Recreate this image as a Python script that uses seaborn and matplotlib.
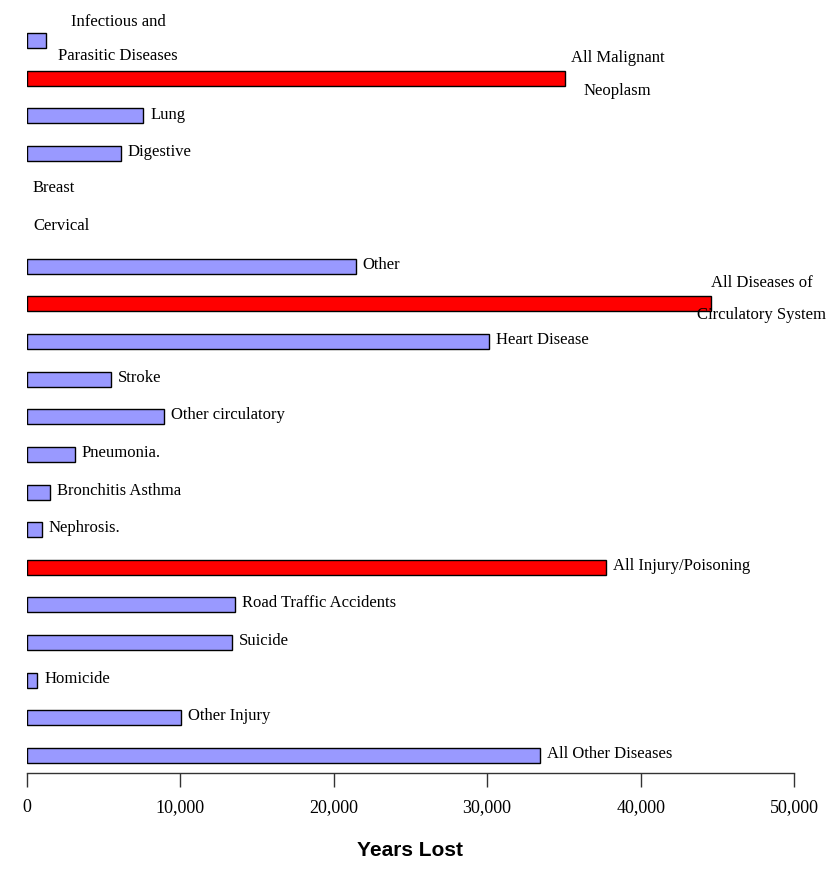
import numpy as np
import pandas as pd
import matplotlib.pyplot as plt
import seaborn as sns

causes = ["Infectious and Parasitic Diseases", "All Malignant Neoplasm", "Lung",
          "Digestive", "Breast", "Cervical", "Other",
          "All Diseases of Circulatory System", "Heart Disease", "Stroke",
          "Other circulatory", "Pneumonia.", "Bronchitis Asthma", "Nephrosis.",
          "All Injury/Poisoning", "Road Traffic Accidents", "Suicide", "Homicide",
          "Other Injury", "All Other Diseases"]
years_lost = [1300, 35100, 7600, 6150, 0, 0, 21450, 44550, 30100, 5500,
              8950, 3150, 1550, 1000, 37750, 13600, 13400, 700, 10050, 33450]
group = ["detail", "total", "detail", "detail", "detail", "detail", "detail",
         "total", "detail", "detail", "detail", "detail", "detail", "detail",
         "total", "detail", "detail", "detail", "detail", "detail"]
xticks = [0, 10000, 20000, 30000, 40000, 50000]

df = pd.DataFrame({"cause": causes, "years": years_lost, "group": group})

serif = ["Liberation Serif", "DejaVu Serif"]

sns.set_style("white")
plt.rcParams["text.color"] = "black"
plt.rcParams["xtick.color"] = "black"
plt.rcParams["axes.labelcolor"] = "black"
fig = plt.figure(figsize=(8.29, 8.88), dpi=100)
ax = fig.add_axes([0.032, 0.1295, 0.926, 0.848])

sns.barplot(data=df, x="years", y="cause", hue="group", order=causes,
            palette={"detail": "#9999FF", "total": "#FF0000"},
            dodge=False, width=0.4, edgecolor="black", linewidth=1,
            saturation=1, legend=False, ax=ax)

# no outline for empty bars (Breast, Cervical)
for p in ax.patches:
    if p.get_width() == 0:
        p.set_linewidth(0)

# labels at bar ends
two_line = {"Infectious and Parasitic Diseases": ("Infectious and", "Parasitic Diseases", 5950, -0.5, 0.42),
            "All Malignant Neoplasm": ("All Malignant", "Neoplasm", 38500, -0.55, 0.33),
            "All Diseases of Circulatory System": ("All Diseases of", "Circulatory System", 47900, -0.55, 0.3)}
for i, (c, v) in enumerate(zip(causes, years_lost)):
    if c in two_line:
        l1, l2, xc, d1, d2 = two_line[c]
        ax.text(xc, i + d1, l1, ha="center", va="center", fontsize=12, family=serif)
        ax.text(xc, i + d2, l2, ha="center", va="center", fontsize=12, family=serif)
    elif v == 0:
        ax.text(420, i - 0.08, c, ha="left", va="center", fontsize=12, family=serif)
    else:
        ax.annotate(c, (v, i), xytext=(5, 1), textcoords="offset points",
                    ha="left", va="center", fontsize=12, family=serif)

ax.set_xlim(0, 50000)
ax.set_ylim(19.47, -0.55)
ax.set_xticks(xticks)
ax.set_xticklabels(["{:,}".format(t) for t in xticks], family=serif, fontsize=13)
ax.tick_params(axis="x", direction="out", length=10, width=1, color="#333333", pad=9,
               bottom=True)
ax.set_yticks([])
ax.set_ylabel("")
for s in ["top", "right", "left"]:
    ax.spines[s].set_visible(False)
ax.spines["bottom"].set_color("#333333")
ax.spines["bottom"].set_linewidth(1)
ax.set_xlabel("Years Lost", fontsize=15, fontweight="bold", color="black",
              family=["Liberation Sans", "DejaVu Sans"], labelpad=18)

plt.savefig("out.png", dpi=100)
plt.close()
